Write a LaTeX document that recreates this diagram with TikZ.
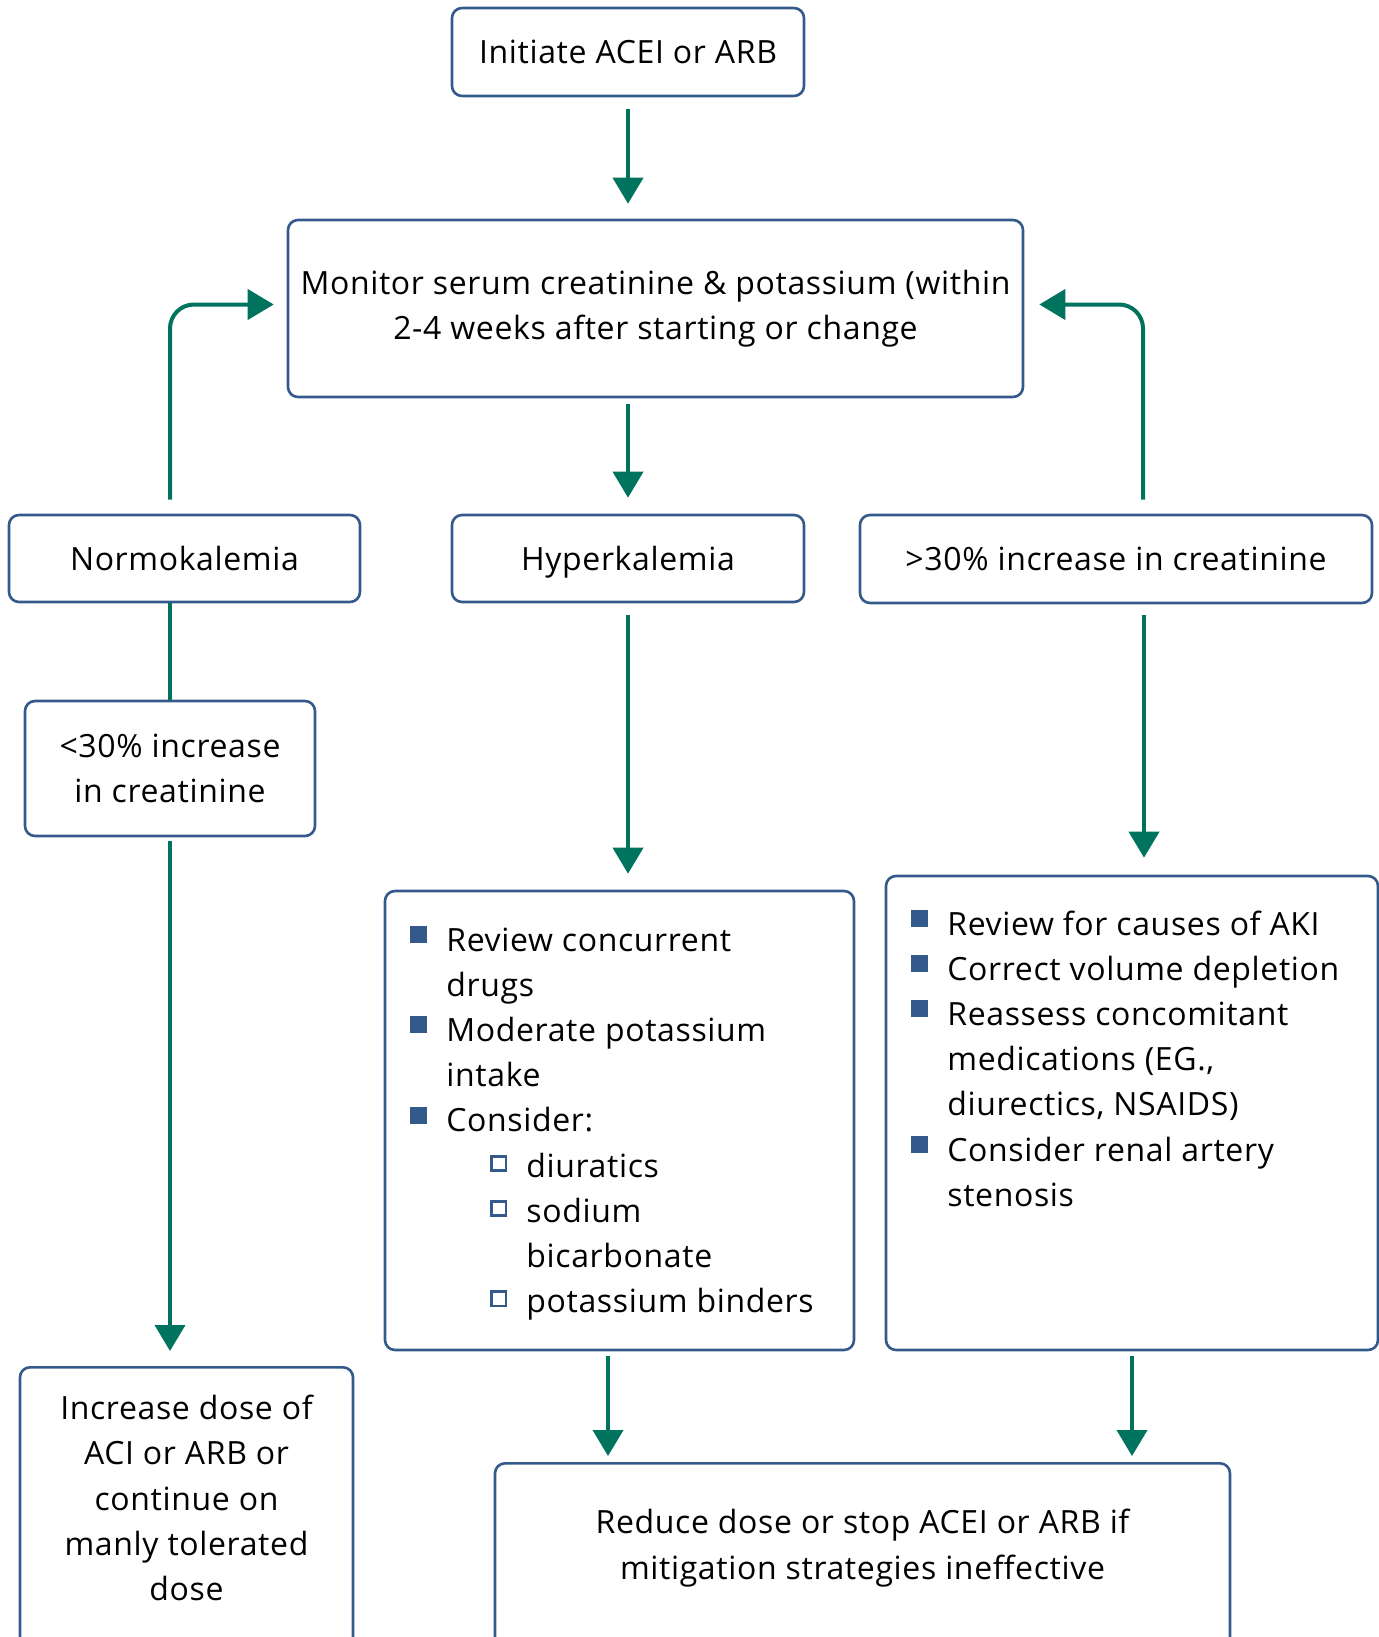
\documentclass[tikz,border=0pt]{standalone}
\usepackage{fontspec}
\setmainfont[LetterSpace=2]{Open Sans}
\usepackage{tikz}
\usetikzlibrary{arrows.meta,positioning,calc}
\definecolor{boxblue}{HTML}{335A8A}
\definecolor{arrowteal}{HTML}{00735F}
\tikzstyle{box} = [draw=boxblue,line width=1.3pt,rounded corners=5pt,align=center,inner sep=0pt,font=\fontsize{16}{22.6}\selectfont]
\tikzstyle{oneline} = [text height=11.5pt,text depth=0pt]
\tikzstyle{txt} = [align=center,inner sep=0pt,font=\fontsize{16}{22.6}\selectfont]
\tikzstyle{arrow} = [line width=2pt,draw=arrowteal,-{Triangle[length=13pt,width=15pt]}]
\tikzstyle{line} = [line width=2pt,draw=arrowteal]
\newcommand{\bul}{\makebox[18pt][l]{\textcolor{boxblue}{\rule[4pt]{8.5pt}{8.5pt}}}}
\newcommand{\hbul}{\makebox[18pt][l]{\textcolor{boxblue}{\setlength{\fboxrule}{1.4pt}\setlength{\fboxsep}{0pt}\raisebox{4pt}{\fbox{\rule{0pt}{5.7pt}\rule{5.7pt}{0pt}}}}}}
\newcommand{\ind}{\hspace*{18pt}}
\begin{document}
\begin{tikzpicture}[x=0.5pt,y=-0.5pt]
    \useasboundingbox (0,0) rectangle (1379,1637);
    \node[box,oneline,minimum width=176pt,minimum height=44pt] (init) at (628,52) {Initiate ACEI or ARB};
    \node[box,minimum width=367.5pt,minimum height=88.5pt] (monitor) at (655.5,308.5) {Monitor serum creatinine \& potassium (within\\2-4 weeks after starting or change};
    \node[box,oneline,minimum width=175.5pt,minimum height=43.5pt] (normo) at (184.5,558.5) {Normokalemia};
    \node[box,oneline,minimum width=176pt,minimum height=43.5pt] (hyper) at (628,558.5) {Hyperkalemia};
    \node[box,oneline,minimum width=256pt,minimum height=44pt] (gt30) at (1116,559) {>30\% increase in creatinine};
    \node[box,minimum width=145pt,minimum height=67.5pt] (lt30) at (170,768.5) {<30\% increase\\in creatinine};
    \node[box,anchor=north,minimum width=166.5pt,minimum height=160pt] (incbox) at (186.5,1366) {};
    \node[txt] (inctext) at (186.5,1498) {Increase dose of\\ACI or ARB or\\continue on\\manly tolerated\\dose};
    \node[box,minimum width=234.5pt,minimum height=229.5pt] (hlist) at (619.5,1120.5) {};
    \node[txt,anchor=base west] (htext) at (410,951) {\begin{tabular}[t]{@{}l@{}}
        \bul Review concurrent\\
        \ind drugs\\
        \bul Moderate potassium\\
        \ind intake\\
        \bul Consider:\\
        \ind\hspace*{22pt}\hbul diuratics\\
        \ind\hspace*{22pt}\hbul sodium\\
        \ind\hspace*{40pt}bicarbonate\\
        \ind\hspace*{22pt}\hbul potassium binders
    \end{tabular}};
    \node[box,minimum width=246pt,minimum height=237pt] (rlist) at (1132,1113) {};
    \node[txt,anchor=base west] (rtext) at (911,935) {\begin{tabular}[t]{@{}l@{}}
        \bul Review for causes of AKI\\
        \bul Correct volume depletion\\
        \bul Reassess concomitant\\
        \ind medications (EG.,\\
        \ind diurectics, NSAIDS)\\
        \bul Consider renal artery\\
        \ind stenosis
    \end{tabular}};
    \node[box,anchor=north,minimum width=367.5pt,minimum height=120pt] (reduce) at (862.5,1462) {};
    \node[txt] (redtext) at (862.5,1548) {Reduce dose or stop ACEI or ARB if\\mitigation strategies ineffective};

    \draw[arrow,shorten <=6pt,shorten >=7.5pt] (init.south) -- (init.south |- monitor.north);
    \draw[arrow,shorten <=3pt,shorten >=8pt] (monitor.south -| init.south) -- (hyper.north);
    \draw[arrow,rounded corners=12pt,shorten <=7pt,shorten >=6.5pt] ([xshift=-7.25pt]normo.north) |- ([yshift=2pt]monitor.west);
    \draw[arrow,rounded corners=12pt,shorten <=7pt,shorten >=7.5pt] ([xshift=13.5pt]gt30.north) |- ([yshift=2pt]monitor.east);
    \draw[line] ([xshift=-7.25pt]normo.south) -- (lt30.north);
    \draw[arrow,shorten <=2pt,shorten >=7.5pt] (lt30.south) -- (lt30.south |- incbox.north);
    \draw[arrow,shorten <=6pt,shorten >=8pt] (hyper.south) -- (hyper.south |- hlist.north);
    \draw[arrow,shorten <=5.5pt,shorten >=8.5pt] ([xshift=14pt]gt30.south) -- ([xshift=14pt]gt30.south |- rlist.north);
    \draw[arrow,shorten <=2.5pt,shorten >=3pt] ([xshift=-5.75pt]hlist.south) -- ([xshift=-5.75pt]hlist.south |- reduce.north);
    \draw[arrow,shorten <=2.5pt,shorten >=3pt] (rlist.south) -- (rlist.south |- reduce.north);
\end{tikzpicture}
\end{document}
